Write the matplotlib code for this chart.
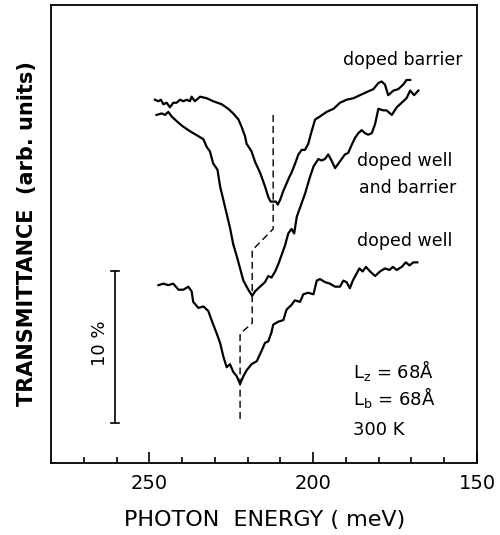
import numpy as np
import matplotlib
matplotlib.use("Agg")
import matplotlib.pyplot as plt

# photon energy (meV) / transmittance (%, arbitrary offset)
barrier_E = [248.3, 247.2, 246.5, 245.7, 244.7, 243.7, 242.7, 241.7, 240.6, 239.6,
             238.6, 237.6, 237.1, 236.1, 234.5, 232.5, 230.5, 227.9, 225.9, 224.4,
             222.8, 221.8, 220.8, 220.3, 218.8, 217.7, 216.2, 214.7, 213.7, 213.0,
             212.2, 211.4, 210.8, 210.1, 209.1, 208.1, 207.3, 206.6, 205.5, 204.5,
             203.5, 202.5, 201.5, 200.5, 199.4, 197.9, 195.9, 193.8, 191.8, 189.8,
             187.7, 185.7, 183.7, 181.6, 180.1, 179.1, 178.1, 177.1, 175.5, 174.0,
             172.5, 171.5, 170.4]
barrier_T = [23.9, 23.8, 23.9, 23.6, 23.7, 23.4, 23.7, 23.7, 23.9, 23.8,
             23.9, 23.8, 24.1, 23.8, 24.1, 24.0, 23.8, 23.6, 23.3, 23.0,
             22.6, 22.1, 21.5, 21.0, 20.5, 19.8, 19.1, 18.2, 17.5, 17.2,
             17.2, 17.2, 17.0, 17.3, 17.9, 18.4, 18.8, 19.1, 19.7, 20.3,
             20.6, 20.6, 21.0, 21.8, 22.6, 22.8, 23.1, 23.3, 23.7, 23.9,
             24.0, 24.2, 24.4, 24.6, 25.0, 25.1, 24.9, 24.2, 24.5, 24.6,
             24.9, 25.2, 25.2]

both_E = [247.8, 246.2, 245.2, 244.2, 243.2, 241.7, 240.1, 238.1, 236.6, 235.0,
          233.5, 232.5, 231.5, 230.5, 229.2, 228.4, 227.4, 226.4, 225.4, 224.4,
          223.3, 222.3, 221.3, 219.8, 218.6, 217.7, 216.2, 214.7, 213.7, 212.7,
          211.6, 210.6, 209.6, 208.6, 207.6, 206.6, 205.8, 205.0, 203.5, 202.5,
          201.0, 199.9, 198.4, 197.4, 196.4, 195.4, 194.4, 193.3, 192.3, 191.3,
          190.3, 189.3, 188.3, 187.2, 186.2, 185.2, 184.2, 183.2, 182.1, 181.1,
          180.1, 178.6, 177.6, 176.0, 174.5, 173.0, 171.5, 170.4, 169.2, 167.9]
both_T = [22.9, 23.0, 22.9, 23.1, 22.8, 22.5, 22.2, 21.9, 21.7, 21.5,
          21.3, 20.8, 20.5, 19.7, 19.3, 18.2, 17.3, 16.4, 15.5, 14.4,
          13.6, 12.8, 12.0, 11.4, 11.0, 11.3, 11.6, 11.9, 12.3, 12.2,
          12.6, 13.1, 13.7, 14.3, 15.1, 15.4, 15.1, 16.2, 17.1, 17.7,
          18.8, 19.5, 20.0, 19.9, 20.0, 20.3, 19.9, 19.4, 19.7, 20.0,
          20.3, 20.4, 20.9, 21.4, 21.7, 21.9, 21.7, 21.6, 21.7, 22.3,
          23.3, 23.2, 23.2, 22.9, 23.4, 23.7, 24.0, 24.5, 24.2, 24.5]

well_E = [247.2, 245.7, 244.2, 242.7, 241.1, 239.6, 238.1, 237.1, 236.6, 235.0,
          233.5, 232.0, 231.0, 229.4, 228.4, 227.4, 226.4, 225.4, 224.4, 223.3,
          222.3, 221.3, 220.3, 218.8, 217.2, 215.7, 214.7, 213.7, 212.7, 212.2,
          210.6, 209.1, 208.1, 206.6, 205.6, 204.0, 203.0, 201.5, 199.9, 198.9,
          197.9, 196.4, 194.9, 193.3, 191.8, 190.8, 189.8, 188.8, 187.9, 186.9,
          185.9, 184.9, 183.9, 182.6, 181.1, 179.6, 178.1, 176.7, 175.7, 174.5,
          173.0, 171.7, 170.6, 169.4, 168.2]
well_T = [11.7, 11.8, 11.7, 11.8, 11.4, 11.4, 11.6, 11.3, 10.6, 10.2,
          10.3, 10.0, 9.4, 8.5, 7.9, 7.0, 6.3, 6.5, 6.0, 5.7,
          5.2, 5.7, 6.1, 6.5, 6.7, 7.4, 7.9, 8.0, 8.6, 9.1,
          9.3, 9.4, 10.1, 10.4, 10.7, 10.6, 11.1, 11.2, 11.1, 12.0,
          12.1, 11.9, 11.8, 11.6, 11.6, 12.0, 11.9, 11.5, 12.0, 12.4,
          12.8, 12.6, 12.9, 12.6, 12.3, 12.6, 12.8, 12.7, 12.9, 12.7,
          12.9, 13.2, 13.0, 13.2, 13.2]

# dashed guide joining the three minima
guide_E = [212.2, 212.2, 218.6, 218.6, 222.3, 222.3]
guide_T = [22.9, 15.4, 14.0, 9.2, 8.5, 2.8]

# 10 % scale bar
bar_E = 260.5
bar_T = [2.6, 12.6]

major_ticks = [250, 200, 150]
minor_ticks = [270, 260, 240, 230, 220, 210, 190, 180, 170, 160]

fig = plt.figure(figsize=(5.0, 5.35), dpi=100)
ax = fig.add_axes([0.102, 0.1346, 0.852, 0.856])

for E, T in [(barrier_E, barrier_T), (both_E, both_T), (well_E, well_T)]:
    ax.plot(E, T, color='black', lw=1.6, solid_joinstyle='round')

ax.plot(guide_E, guide_T, color='black', lw=1.0, ls=(0, (5, 3)))

ax.plot([bar_E, bar_E], bar_T, color='black', lw=1.2)
for t in bar_T:
    ax.plot([bar_E - 1.2, bar_E + 1.2], [t, t], color='black', lw=1.2)
ax.text(265.0, 7.9, '10 %', rotation=90, ha='center', va='center', fontsize=13)

ax.text(190.9, 26.5, 'doped barrier', ha='left', va='center', fontsize=12.5)
ax.text(186.6, 19.9, 'doped well', ha='left', va='center', fontsize=12.5)
ax.text(186.0, 18.1, 'and barrier', ha='left', va='center', fontsize=12.5)
ax.text(186.6, 14.6, 'doped well', ha='left', va='center', fontsize=12.5)

ax.text(187.8, 6.1, r'L$_\mathregular{z}$ = 68Å', ha='left', va='center', fontsize=13)
ax.text(187.8, 4.3, r'L$_\mathregular{b}$ = 68Å', ha='left', va='center', fontsize=13)
ax.text(187.8, 2.2, '300 K', ha='left', va='center', fontsize=13)

ax.set_xlim(280, 150)
ax.set_ylim(0, 30.13)
ax.set_xticks(major_ticks)
ax.set_xticks(minor_ticks, minor=True)
ax.set_yticks([])
ax.tick_params(axis='x', which='major', direction='in', length=8, width=1.2,
               labelsize=14, pad=8)
ax.tick_params(axis='x', which='minor', direction='in', length=4, width=1.2)
for s in ax.spines.values():
    s.set_linewidth(1.3)

ax.text(-0.056, 0.5, 'TRANSMITTANCE  (arb. units)', transform=ax.transAxes,
        rotation=90, ha='center', va='center', fontsize=15, fontweight='bold')
fig.text(0.53, 0.028, 'PHOTON  ENERGY ( meV)', ha='center', va='center',
         fontsize=16)

plt.savefig('out.png', dpi=100)
